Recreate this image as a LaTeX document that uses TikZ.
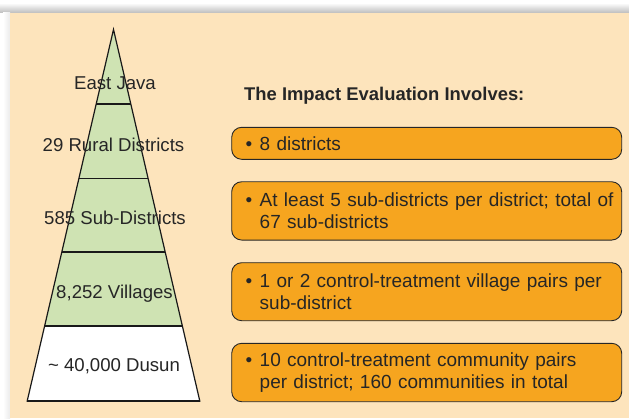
\documentclass[tikz,border=0pt]{standalone}
\usepackage{fontspec}
\setmainfont{Liberation Sans}
\definecolor{panelfill}{HTML}{FDE4BC}
\definecolor{tiergreen}{HTML}{CFE3B3}
\definecolor{boxorange}{HTML}{F6A51F}
\definecolor{inkgray}{HTML}{262626}
\tikzset{
  tierlabel/.style={anchor=base, inner sep=0pt, text=inkgray,
    font=\fontsize{18.6}{22}\selectfont},
  headline/.style={anchor=base west, inner sep=0pt, text=inkgray,
    font=\bfseries\fontsize{18.4}{22}\selectfont},
  itembox/.style={draw=inkgray, line width=0.9pt, fill=boxorange,
    rounded corners=10pt, minimum width=390pt, text width=374pt,
    inner xsep=8pt, inner ysep=0pt, align=left, text=inkgray,
    font=\fontsize{19}{22}\selectfont},
  tierline/.style={draw=black!90, line width=1.7pt},
}
% bullet column followed by the item's lines, each kept on one line
\newcommand{\itemdot}{\hspace*{6pt}\makebox[14pt][l]{\textbullet}}
\newcommand{\twolines}[2]{\parbox[t]{352pt}{\mbox{#1}\\\mbox{#2}}}
\begin{document}
\begin{tikzpicture}[x=1pt,y=-1pt]
\useasboundingbox (0,0) rectangle (629,418);
% page background and soft shadow around the panel
\fill[white] (0,0) rectangle (629,418);
\shade[top color=white, bottom color=black!25] (0,3) rectangle (629,12.5);
\shade[left color=white, right color=black!8] (3,12.5) rectangle (10,418);
\fill[panelfill] (10,12.5) rectangle (629,418);

% pyramid tiers
\coordinate (apex) at (113.5,29.5);
\coordinate (l1) at (96.2,104);   \coordinate (r1) at (130.8,104);
\coordinate (l2) at (78.9,178.5); \coordinate (r2) at (148.1,178.5);
\coordinate (l3) at (61.8,252);   \coordinate (r3) at (165.2,252);
\coordinate (l4) at (44.7,325.7); \coordinate (r4) at (182.3,325.7);
\coordinate (l5) at (27.2,401);   \coordinate (r5) at (199.8,401);
\fill[tiergreen] (apex) -- (r4) -- (l4) -- cycle;
\fill[white] (l4) -- (r4) -- (r5) -- (l5) -- cycle;
\draw[black!90, line width=1.2pt, line join=miter] (apex) -- (r5) -- (l5) -- cycle;
\draw[tierline] (l1) -- (r1);
\draw[tierline] (l2) -- (r2);
\draw[tierline] (l3) -- (r3);
\draw[tierline] (l4) -- (r4);
\draw[tierline] (l5) -- (r5);

\node[tierlabel] (t1) at (115,89) {East Java};
\node[tierlabel] (t2) at (113.5,151.7) {29 Rural Districts};
\node[tierlabel] (t3) at (115,224) {585 Sub-Districts};
\node[tierlabel] (t4) at (114.5,298.3) {8,252 Villages};
\node[tierlabel] (t5) at (114,371.7) {\textasciitilde{} 40,000 Dusun};

% evaluation summary
\node[headline] (head) at (244,100) {The Impact Evaluation Involves:};
\node[itembox, minimum height=32pt] (b1) at (426.7,143.3)
  {\itemdot 8 districts};
\node[itembox, minimum height=58.3pt] (b2) at (426.7,210.9)
  {\itemdot\twolines{At least 5 sub-districts per district; total of}{67 sub-districts}};
\node[itembox, minimum height=58pt] (b3) at (426.7,291.7)
  {\itemdot\twolines{1 or 2 control-treatment village pairs per}{sub-district}};
\node[itembox, minimum height=58.4pt] (b4) at (426.7,372.5)
  {\itemdot\twolines{10 control-treatment community pairs}{per district; 160 communities in total}};
\end{tikzpicture}
\end{document}
